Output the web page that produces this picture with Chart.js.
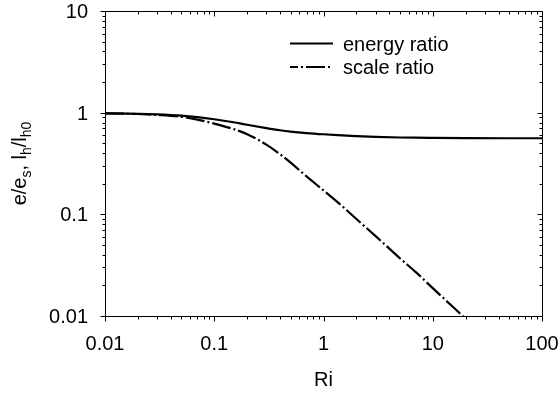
<!DOCTYPE html>
<html>
<head>
<meta charset="utf-8">
<script src="https://cdn.jsdelivr.net/npm/chart.js@4/dist/chart.umd.min.js"></script>
<style>
  html, body { margin: 0; padding: 0; background: #ffffff; }
  #wrap { width: 560px; height: 397px; }
</style>
</head>
<body>
<div id="wrap"><canvas id="c" width="560" height="397"></canvas></div>
<script>
// Richardson number samples and the two ratios
const riEnergy = [0.01, 0.02, 0.03, 0.05, 0.07, 0.1, 0.15, 0.2, 0.3, 0.4, 0.5, 0.7, 1, 1.5, 2, 3, 5, 7, 10, 20, 50, 100];
const energyRatio = [0.985, 0.975, 0.962, 0.935, 0.905, 0.862, 0.805, 0.76, 0.705, 0.672, 0.652, 0.63, 0.613, 0.598, 0.588, 0.578, 0.57, 0.567, 0.565, 0.562, 0.56, 0.56];

const riScale = [0.01, 0.02, 0.03, 0.05, 0.07, 0.1, 0.15, 0.2, 0.3, 0.4, 0.5, 0.7, 1, 1.5, 2, 3, 5, 7, 10, 20];
const scaleRatio = [0.985, 0.97, 0.95, 0.91, 0.855, 0.78, 0.69, 0.615, 0.485, 0.39, 0.322, 0.236, 0.172, 0.119, 0.09, 0.061, 0.037, 0.027, 0.0188, 0.0094];

const seriesNames = ['energy ratio', 'scale ratio'];
const xTickValues = [0.01, 0.1, 1, 10, 100];
const yTickValues = [0.01, 0.1, 1, 10];
const xTitle = 'Ri';
// y title pieces: [text, isSubscript]
const yTitleParts = [['e/e', false], ['s', true], [', l', false], ['h', true], ['/l', false], ['h0', true]];

const FONT = '"Liberation Sans", Arial, Helvetica, sans-serif';
const DASH = [19, 3, 2, 3];

// minor tick positions 2..9 within each decade
function minorTicks(majors) {
  const out = [];
  for (let i = 0; i < majors.length - 1; i++) {
    for (let k = 2; k <= 9; k++) out.push(majors[i] * k);
  }
  return out;
}

const toPoints = (xs, ys) => xs.map((x, i) => ({ x: x, y: ys[i] }));

const framePlugin = {
  id: 'frame',
  afterDatasetsDraw(chart) {
    const { ctx, chartArea: a, scales } = chart;
    const xs = scales.x, ys = scales.y;
    ctx.save();
    ctx.strokeStyle = '#000';
    ctx.lineWidth = 1;
    const L = Math.round(a.left) + 0.5, R = Math.round(a.right) + 0.5;
    const T = Math.round(a.top) + 0.5, B = Math.round(a.bottom) + 0.5;
    ctx.beginPath();
    ctx.rect(L, T, R - L, B - T);
    ctx.stroke();

    ctx.beginPath();
    const xMin = minorTicks(xTickValues), yMin = minorTicks(yTickValues);
    xTickValues.forEach(v => {
      const p = Math.round(xs.getPixelForValue(v)) + 0.5;
      ctx.moveTo(p, B); ctx.lineTo(p, B + 5);
      ctx.moveTo(p, T); ctx.lineTo(p, T + 5);
    });
    xMin.forEach(v => {
      const p = Math.round(xs.getPixelForValue(v)) + 0.5;
      ctx.moveTo(p, B); ctx.lineTo(p, B + 3);
      ctx.moveTo(p, T); ctx.lineTo(p, T + 3);
    });
    yTickValues.forEach(v => {
      const p = Math.round(ys.getPixelForValue(v)) + 0.5;
      ctx.moveTo(L, p); ctx.lineTo(L - 5, p);
      ctx.moveTo(R, p); ctx.lineTo(R - 5, p);
    });
    yMin.forEach(v => {
      const p = Math.round(ys.getPixelForValue(v)) + 0.5;
      ctx.moveTo(L, p); ctx.lineTo(L - 3, p);
      ctx.moveTo(R, p); ctx.lineTo(R - 3, p);
    });
    ctx.stroke();

    // tick labels
    ctx.fillStyle = '#000';
    ctx.font = '20px ' + FONT;
    ctx.textBaseline = 'alphabetic';
    ctx.textAlign = 'center';
    xTickValues.forEach(v => ctx.fillText(String(v), xs.getPixelForValue(v), 350));
    ctx.textAlign = 'right';
    yTickValues.forEach(v => ctx.fillText(String(v), 88, ys.getPixelForValue(v) + 7));

    // axis titles
    ctx.textAlign = 'center';
    ctx.fillText(xTitle, (a.left + a.right) / 2, 386);

    // rotated y title with subscripts
    const big = '20px ' + FONT, small = '14px ' + FONT;
    let total = 0;
    yTitleParts.forEach(([t, sub]) => { ctx.font = sub ? small : big; total += ctx.measureText(t).width; });
    ctx.translate(26, (a.top + a.bottom) / 2);
    ctx.rotate(-Math.PI / 2);
    ctx.textAlign = 'left';
    let xPos = -total / 2;
    yTitleParts.forEach(([t, sub]) => {
      ctx.font = sub ? small : big;
      ctx.fillText(t, xPos, sub ? 5 : 0);
      xPos += ctx.measureText(t).width;
    });
    ctx.restore();

    // legend
    ctx.save();
    ctx.font = '20px ' + FONT;
    ctx.fillStyle = '#000';
    ctx.textAlign = 'left';
    ctx.textBaseline = 'middle';
    const rows = [43.5, 67];
    chart.data.datasets.forEach((ds, i) => {
      ctx.strokeStyle = ds.borderColor;
      ctx.lineWidth = ds.borderWidth;
      ctx.setLineDash(ds.borderDash || []);
      ctx.lineDashOffset = ds.borderDash ? 11 : 0;
      ctx.beginPath();
      ctx.moveTo(290, rows[i]);
      ctx.lineTo(333, rows[i]);
      ctx.stroke();
      ctx.setLineDash([]);
      ctx.fillText(ds.label, 343, rows[i] + 1.5);
    });
    ctx.restore();
  }
};

new Chart(document.getElementById('c'), {
  type: 'line',
  data: {
    datasets: [
      {
        label: seriesNames[0],
        data: toPoints(riEnergy, energyRatio),
        borderColor: '#000',
        borderWidth: 2.2,
        pointRadius: 0,
        cubicInterpolationMode: 'monotone',
        fill: false,
        clip: 0
      },
      {
        label: seriesNames[1],
        data: toPoints(riScale, scaleRatio),
        borderColor: '#000',
        borderWidth: 2.2,
        borderDash: DASH,
        pointRadius: 0,
        cubicInterpolationMode: 'monotone',
        fill: false,
        clip: 0
      }
    ]
  },
  options: {
    responsive: false,
    animation: false,
    devicePixelRatio: 1,
    layout: { padding: { top: 11, right: 18, left: 0, bottom: 0 } },
    plugins: { legend: { display: false }, tooltip: { enabled: false } },
    scales: {
      x: {
        type: 'logarithmic',
        position: 'bottom',
        min: 0.01,
        max: 100,
        grid: { display: false, drawTicks: false },
        border: { display: false },
        ticks: { display: false },
        afterFit: s => { s.height = 81; }
      },
      y: {
        type: 'logarithmic',
        position: 'left',
        min: 0.01,
        max: 10,
        grid: { display: false, drawTicks: false },
        border: { display: false },
        ticks: { display: false },
        afterFit: s => { s.width = 105; }
      }
    }
  },
  plugins: [framePlugin]
});
</script>
</body>
</html>
